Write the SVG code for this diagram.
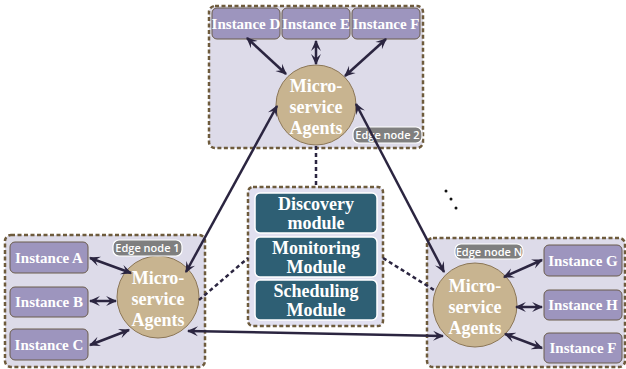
<svg xmlns="http://www.w3.org/2000/svg" width="626" height="369" viewBox="0 0 626 369">
<defs>
<marker id="ah" viewBox="0 0 10 10" refX="9" refY="5" markerWidth="4.4" markerHeight="4.4" orient="auto-start-reverse" markerUnits="strokeWidth">
<path d="M0,0.5 L10,5 L0,9.5 L4,5 Z" fill="#2b2540"/>
</marker>
<style>
.edge{fill:#dddbe9;stroke:#6e5b3c;stroke-width:2.5;stroke-dasharray:4 2.5}
.inst{fill:#9d95be;stroke:#6b5c4c;stroke-width:1}
.it{fill:#fff;font-family:"Liberation Serif",serif;font-weight:bold;font-size:15px;text-anchor:middle}
.agent{fill:#c8b490;stroke:#8b7656;stroke-width:1}
.at{fill:#fff;font-family:"Liberation Serif",serif;font-weight:bold;font-size:18px;text-anchor:middle}
.pill{fill:#7f7f7f;stroke:#fff;stroke-width:1.2}
.pt{fill:#fff;font-family:"Open Sans","Liberation Sans",sans-serif;font-size:11px;font-weight:600;text-anchor:middle}
.mod{fill:#2e5f74;stroke:#fff;stroke-width:1.5}
.mt{fill:#fff;font-family:"Liberation Serif",serif;font-weight:bold;font-size:18px;text-anchor:middle}
.arr{stroke:#2b2540;stroke-width:2.5;fill:none;marker-start:url(#ah);marker-end:url(#ah)}
.dash{stroke:#2b2540;stroke-width:2.5;fill:none;stroke-dasharray:4 3}
</style>
</defs>

<g id="edge2">
<rect class="edge" x="209" y="6" width="214" height="142" rx="6"/>
<g id="instD"><rect class="inst" x="212" y="8" width="68" height="31" rx="5"/><text class="it" x="246" y="29">Instance D</text></g>
<g id="instE"><rect class="inst" x="282" y="8" width="68" height="31" rx="5"/><text class="it" x="316" y="29">Instance E</text></g>
<g id="instF1"><rect class="inst" x="352" y="8" width="68" height="31" rx="5"/><text class="it" x="386" y="29">Instance F</text></g>
<g id="agent2"><circle class="agent" cx="316" cy="105" r="40"/>
<text class="at" x="316" y="92">Micro-</text><text class="at" x="316" y="113">service</text><text class="at" x="316" y="134">Agents</text></g>
<g id="label2"><rect class="pill" x="353" y="127" width="69" height="16" rx="6"/><text class="pt" x="387.5" y="139">Edge node 2</text></g>
</g>

<g id="edge1">
<rect class="edge" x="5" y="235" width="200" height="132" rx="6"/>
<g id="instA"><rect class="inst" x="10" y="242" width="78" height="31" rx="5"/><text class="it" x="49" y="263">Instance A</text></g>
<g id="instB"><rect class="inst" x="10" y="287" width="78" height="30" rx="5"/><text class="it" x="49" y="307">Instance B</text></g>
<g id="instC"><rect class="inst" x="10" y="329" width="78" height="31" rx="5"/><text class="it" x="49" y="350">Instance C</text></g>
<g id="agent1"><circle class="agent" cx="158" cy="297" r="41"/>
<text class="at" x="158" y="284">Micro-</text><text class="at" x="158" y="305">service</text><text class="at" x="158" y="326">Agents</text></g>
<g id="label1"><rect class="pill" x="113" y="240" width="69" height="16" rx="6"/><text class="pt" x="147.5" y="252">Edge node 1</text></g>
</g>

<g id="edgeN">
<rect class="edge" x="427" y="238" width="198" height="129" rx="6"/>
<g id="instG"><rect class="inst" x="544" y="245" width="78" height="31" rx="5"/><text class="it" x="583" y="266">Instance G</text></g>
<g id="instH"><rect class="inst" x="544" y="290" width="78" height="30" rx="5"/><text class="it" x="583" y="310">Instance H</text></g>
<g id="instF2"><rect class="inst" x="544" y="333" width="78" height="30" rx="5"/><text class="it" x="583" y="353">Instance F</text></g>
<g id="agentN"><circle class="agent" cx="475" cy="305" r="42"/>
<text class="at" x="475" y="292">Micro-</text><text class="at" x="475" y="313">service</text><text class="at" x="475" y="334">Agents</text></g>
<g id="labelN"><rect class="pill" x="455" y="244" width="68" height="15" rx="6"/><text class="pt" x="489" y="255.5">Edge node N</text></g>
</g>

<g id="modules">
<rect class="edge" x="248" y="187" width="135" height="139" rx="5" style="fill:#e1e0f0"/>
<g id="discovery"><rect class="mod" x="255" y="193" width="122" height="40" rx="5"/><text class="mt" x="316" y="210">Discovery</text><text class="mt" x="316" y="229">module</text></g>
<g id="monitoring"><rect class="mod" x="255" y="237" width="122" height="40" rx="5"/><text class="mt" x="316" y="254">Monitoring</text><text class="mt" x="316" y="273">Module</text></g>
<g id="scheduling"><rect class="mod" x="255" y="280" width="122" height="40" rx="5"/><text class="mt" x="316" y="297">Scheduling</text><text class="mt" x="316" y="316">Module</text></g>
</g>

<g id="dots" fill="#111">
<circle cx="446" cy="191" r="1.5"/><circle cx="451" cy="199" r="1.5"/><circle cx="456" cy="208" r="1.5"/>
</g>

<g id="connectors">
<line class="arr" x1="247" y1="38" x2="286" y2="74"/>
<line class="arr" x1="316" y1="41" x2="316" y2="64"/>
<line class="arr" x1="386" y1="39" x2="345" y2="76"/>
<line class="arr" x1="90" y1="258" x2="131" y2="273"/>
<line class="arr" x1="90" y1="301" x2="116" y2="301"/>
<line class="arr" x1="90" y1="345" x2="129" y2="330"/>
<line class="arr" x1="542" y1="260" x2="504" y2="277"/>
<line class="arr" x1="542" y1="307" x2="516" y2="307"/>
<line class="arr" x1="542" y1="348" x2="505" y2="334"/>
<line class="arr" x1="277" y1="106" x2="186" y2="272"/>
<line class="arr" x1="356" y1="104" x2="444" y2="272"/>
<line class="arr" x1="188" y1="331" x2="443" y2="336"/>
<line class="dash" x1="316" y1="146" x2="316" y2="187"/>
<line class="dash" x1="199" y1="300" x2="248" y2="258"/>
<line class="dash" x1="383" y1="258" x2="434" y2="290"/>
</g>
</svg>
